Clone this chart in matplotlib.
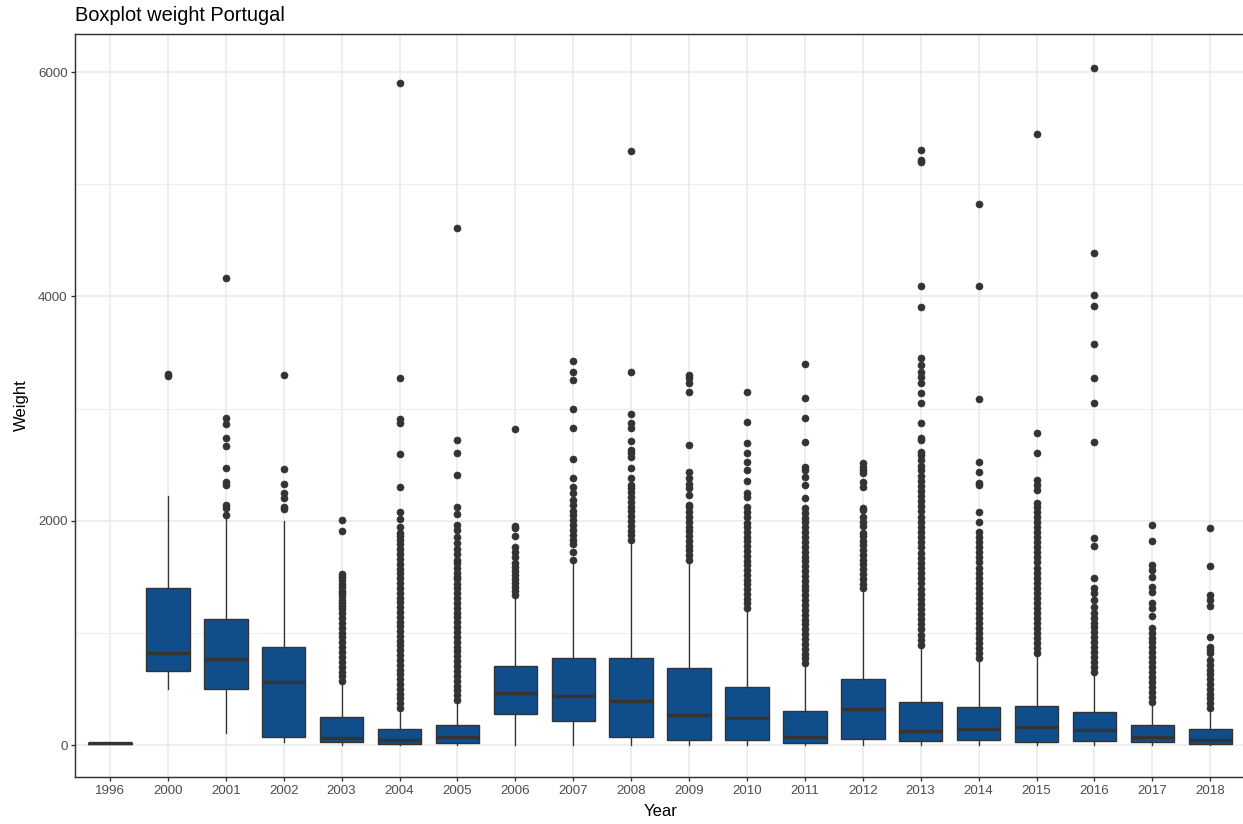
import matplotlib
matplotlib.use("Agg")
import matplotlib.pyplot as plt
from matplotlib.ticker import FixedLocator

plt.rcParams['font.family'] = ['Liberation Sans', 'DejaVu Sans']

# ---------------- data ----------------
years = ["1996", "2000", "2001", "2002", "2003", "2004", "2005", "2006", "2007", "2008",
         "2009", "2010", "2011", "2012", "2013", "2014", "2015", "2016", "2017", "2018"]

q1 = [8, 660, 502, 71, 27, 9, 21, 274, 217, 74,
      45, 45, 21, 56, 39, 45, 30, 36, 30, 9]
median = [15, 818, 764, 565, 60, 45, 74, 466, 437, 395,
          267, 238, 74, 318, 125, 143, 160, 134, 69, 45]
q3 = [22, 1403, 1123, 871, 252, 143, 180, 704, 779, 773,
      689, 520, 306, 588, 380, 336, 351, 291, 178, 143]
whisker_low = [8, 497, 104, 24, 0, 0, 0, 0, 0, 0,
               0, 0, 0, 0, 0, 0, 0, 0, 0, 0]
whisker_high = [22, 2220, 2030, 2000, 550, 312, 386, 1322, 1620, 1813,
                1635, 1204, 713, 1373, 877, 758, 802, 639, 372, 312]

fliers_1996 = []
fliers_2000 = [3290, 3310]
fliers_2001 = [2051, 2110, 2140, 2318, 2348, 2473, 2666, 2734, 2862, 2913, 4161]
fliers_2002 = [2100, 2125, 2200, 2247, 2327, 2461, 3299]
fliers_2003 = [570, 612, 655, 700, 742, 788, 830, 872, 915, 960, 1002, 1045, 1090, 1132,
               1175, 1215, 1240, 1268, 1296, 1330, 1352, 1370, 1410, 1440, 1468, 1500,
               1525, 1908, 2006]
fliers_2004 = [330, 372, 415, 458, 500, 545, 588, 630, 672, 715, 758, 800, 845, 888, 930,
               972, 1015, 1058, 1100, 1145, 1188, 1230, 1272, 1315, 1358, 1400, 1445, 1488,
               1530, 1572, 1615, 1658, 1700, 1745, 1788, 1830, 1860, 1890, 1947, 2013, 2080,
               2303, 2592, 2868, 2907, 3269, 5900]
fliers_2005 = [401, 445, 488, 530, 575, 618, 660, 705, 748, 790, 835, 878, 920, 965, 1008,
               1050, 1095, 1138, 1180, 1225, 1268, 1310, 1355, 1398, 1440, 1480, 1500, 1531,
               1575, 1620, 1650, 1700, 1750, 1800, 1857, 1917, 1962, 2057, 2118, 2407, 2601,
               2720, 4607]
fliers_2006 = [1340, 1375, 1410, 1445, 1480, 1515, 1550, 1585, 1620, 1679, 1724, 1768, 1866,
               1932, 1953, 2815]
fliers_2007 = [1650, 1724, 1790, 1828, 1870, 1917, 1960, 2006, 2050, 2090, 2140, 2184, 2244,
               2303, 2378, 2553, 2830, 2999, 3255, 3329, 3424]
fliers_2008 = [1828, 1870, 1912, 1955, 1998, 2040, 2082, 2125, 2168, 2210, 2252, 2295, 2318,
               2378, 2466, 2571, 2600, 2630, 2711, 2823, 2868, 2949, 3329, 5300]
fliers_2009 = [1650, 1692, 1735, 1778, 1820, 1862, 1905, 1948, 1990, 2032, 2075, 2118, 2140,
               2229, 2289, 2330, 2378, 2432, 2677, 3144, 3231, 3270, 3299]
fliers_2010 = [1220, 1262, 1305, 1348, 1390, 1432, 1475, 1518, 1560, 1602, 1645, 1688, 1730,
               1772, 1815, 1858, 1900, 1942, 1977, 2036, 2080, 2125, 2214, 2244, 2357, 2452,
               2526, 2601, 2696, 2877, 3150]
fliers_2011 = [728, 772, 815, 858, 900, 945, 988, 1030, 1075, 1118, 1160, 1205, 1248, 1290,
               1335, 1378, 1420, 1465, 1508, 1550, 1595, 1638, 1680, 1725, 1768, 1810, 1855,
               1898, 1940, 1985, 2028, 2066, 2110, 2199, 2318, 2393, 2450, 2481, 2699, 2919,
               3092, 3397]
fliers_2012 = [1397, 1440, 1482, 1525, 1568, 1610, 1652, 1695, 1738, 1780, 1822, 1865, 1887,
               1950, 1990, 2036, 2095, 2110, 2303, 2348, 2423, 2450, 2480, 2512]
fliers_2013 = [892, 938, 985, 1030, 1075, 1120, 1168, 1212, 1258, 1305, 1350, 1395, 1442,
               1488, 1532, 1578, 1625, 1670, 1715, 1762, 1808, 1852, 1898, 1945, 1990, 2035,
               2082, 2128, 2172, 2218, 2265, 2310, 2355, 2402, 2448, 2492, 2540, 2585, 2615,
               2720, 2734, 2868, 3046, 3135, 3225, 3284, 3329, 3388, 3448, 3903, 4090, 5195,
               5220, 5302]
fliers_2014 = [773, 818, 862, 908, 952, 998, 1042, 1088, 1132, 1178, 1222, 1268, 1312, 1358,
               1402, 1448, 1492, 1538, 1582, 1628, 1672, 1718, 1762, 1808, 1852, 1902, 1991,
               2080, 2322, 2336, 2437, 2526, 3088, 4096, 4820]
fliers_2015 = [817, 862, 908, 952, 998, 1042, 1088, 1132, 1178, 1222, 1268, 1312, 1358, 1402,
               1448, 1492, 1538, 1582, 1628, 1672, 1718, 1762, 1808, 1852, 1898, 1942, 1988,
               2032, 2078, 2125, 2162, 2274, 2320, 2363, 2601, 2779, 5451]
fliers_2016 = [654, 698, 742, 786, 830, 874, 918, 962, 1006, 1050, 1085, 1130, 1174, 1230,
               1293, 1353, 1397, 1485, 1777, 1843, 2705, 3046, 3269, 3579, 3915, 4013, 4387,
               6037]
fliers_2017 = [386, 430, 475, 518, 562, 606, 650, 695, 738, 782, 826, 870, 915, 958, 1002,
               1040, 1153, 1219, 1269, 1367, 1406, 1495, 1560, 1605, 1819, 1962]
fliers_2018 = [330, 372, 415, 458, 500, 545, 588, 630, 672, 715, 758, 818, 850, 877, 966,
               1240, 1290, 1337, 1599, 1935]

fliers = [fliers_1996, fliers_2000, fliers_2001, fliers_2002, fliers_2003, fliers_2004,
          fliers_2005, fliers_2006, fliers_2007, fliers_2008, fliers_2009, fliers_2010,
          fliers_2011, fliers_2012, fliers_2013, fliers_2014, fliers_2015, fliers_2016,
          fliers_2017, fliers_2018]

y_ticks = [0, 2000, 4000, 6000]
y_minor = [1000, 3000, 5000]

# ---------------- figure ----------------
W, H = 1243, 824
fig = plt.figure(figsize=(W / 100, H / 100), dpi=100)
left_px, right_px, top_px, bottom_px = 75.3, 1245.0, 34.0, 777.0
ax = fig.add_axes([left_px / W, 1 - bottom_px / H,
                   (right_px - left_px) / W, (bottom_px - top_px) / H])

stats = []
for i, yr in enumerate(years):
    stats.append(dict(label=yr, q1=q1[i], med=median[i], q3=q3[i],
                      whislo=whisker_low[i], whishi=whisker_high[i], fliers=fliers[i]))

positions = list(range(1, len(years) + 1))
edge = '#333333'
ax.bxp(stats, positions=positions, widths=0.75, patch_artist=True, showcaps=False,
       boxprops=dict(facecolor='#104E8B', edgecolor=edge, linewidth=1.0),
       medianprops=dict(color=edge, linewidth=2.4, solid_capstyle='butt'),
       whiskerprops=dict(color=edge, linewidth=0.95),
       flierprops=dict(marker='o', markerfacecolor=edge, markeredgecolor=edge,
                       markeredgewidth=0.4, markersize=5.1, linestyle='none'),
       zorder=3)

ax.set_xlim(0.4, len(years) + 0.6)
ax.set_ylim(-285, 6339)
ax.set_xticks(positions)
ax.set_xticklabels(years)
ax.set_yticks(y_ticks)
ax.set_yticklabels([str(v) for v in y_ticks])
ax.yaxis.set_minor_locator(FixedLocator(y_minor))

ax.set_axisbelow(True)
ax.grid(True, which='major', color='#EBEBEB', linewidth=1.2)
ax.grid(True, which='minor', axis='y', color='#EBEBEB', linewidth=0.6)
for s in ax.spines.values():
    s.set_color(edge)
    s.set_linewidth(1.05)

ax.tick_params(axis='both', which='major', colors=edge, labelcolor='#4D4D4D',
               labelsize=9.6, length=3.2, width=0.95, pad=2.4)
ax.tick_params(axis='y', which='minor', length=0)

fig.text(left_px / W, 1 - 21 / H, "Boxplot weight Portugal", fontsize=14.4,
         ha='left', va='baseline', color='black')
fig.text(21.5 / W, 1 - ((top_px + bottom_px) / 2) / H, "Weight", fontsize=12,
         rotation=90, ha='center', va='center', color='black')
fig.text(((left_px + right_px) / 2) / W, 1 - 812 / H, "Year", fontsize=12,
         ha='center', va='center', color='black')

fig.savefig("out.png", dpi=100)
